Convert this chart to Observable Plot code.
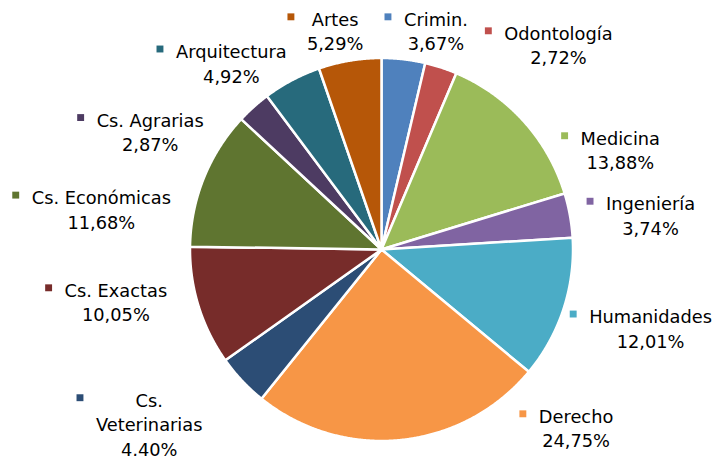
<!DOCTYPE html>
<html><head><meta charset="utf-8">
<script src="https://cdn.jsdelivr.net/npm/d3@7"></script>
<script src="https://cdn.jsdelivr.net/npm/@observablehq/plot@0.6"></script>
<style>body{margin:0;background:#fff}</style>
</head><body><div id="chart"></div>
<script>
// Data (clockwise from 12 o'clock)
const categories = ["Crimin.","Odontología","Medicina","Ingeniería","Humanidades","Derecho","Cs. Veterinarias","Cs. Exactas","Cs. Económicas","Cs. Agrarias","Arquitectura","Artes"];
const values = [3.67, 2.72, 13.88, 3.74, 12.01, 24.75, 4.40, 10.05, 11.68, 2.87, 4.92, 5.29];
const labelLines = [["Crimin."],["Odontología"],["Medicina"],["Ingeniería"],["Humanidades"],["Derecho"],["Cs.","Veterinarias"],["Cs. Exactas"],["Cs. Económicas"],["Cs. Agrarias"],["Arquitectura"],["Artes"]];
const colors = ["#4F81BD","#C0504D","#9BBB59","#8064A2","#4BACC6","#F79646","#2C4D75","#772C2A","#5F7530","#4D3B62","#276A7C","#B65708"];

// Layout: label anchor (centre x, first baseline y) in pie-radius units
const labelPos = [[0.284,1.168],[0.924,1.095],[1.247,0.547],[1.405,0.205],[1.405,-0.384],[1.016,-0.905],[-1.213,-0.821],[-1.387,-0.247],[-1.463,0.237],[-1.208,0.642],[-0.784,1.0],[-0.242,1.168]];

const FONT = 17.8, LINE = 24.5;
const cx = 381, cy = 249, R = 191.5;
const ctx = document.createElement("canvas").getContext("2d");
ctx.font = `${FONT}px "DejaVu Sans"`;

const pie = d3.pie().sort(null).value(d => d.v)(categories.map((c, i) => ({c, v: values[i]})));
const slicePts = [];
pie.forEach(p => {
  const n = Math.max(2, Math.ceil((p.endAngle - p.startAngle) / 0.005));
  slicePts.push({c: p.data.c, x: 0, y: 0});
  for (let k = 0; k <= n; k++) {
    const a = p.startAngle + (p.endAngle - p.startAngle) * k / n;
    slicePts.push({c: p.data.c, x: Math.sin(a), y: Math.cos(a)});
  }
});

const fmt = v => v.toFixed(2).replace(".", ",") + "%";
const textRows = [];
const keys = [];
categories.forEach((c, i) => {
  const lines = [...labelLines[i], fmt(values[i])];
  const [lx, ly] = labelPos[i];
  lines.forEach((t, k) => textRows.push({c, x: lx, y: ly, text: t, k}));
  const w = Math.max(...lines.map(t => ctx.measureText(t).width));
  keys.push({c, x: lx - (w / 2 + 16) / R, y: ly + 9 / R});
});

const textMarks = [0, 1, 2].map(k => Plot.text(textRows.filter(d => d.k === k), {
  x: "x", y: "y", text: "text", dy: k * LINE, lineAnchor: "bottom", fontSize: FONT, fill: "#000"
}));

const chart = Plot.plot({
  width: 715, height: 456, margin: 0,
  x: {domain: [-1, 1], range: [cx - R, cx + R], axis: null},
  y: {domain: [-1, 1], range: [cy + R, cy - R], axis: null},
  color: {domain: categories, range: colors},
  style: {fontFamily: "DejaVu Sans", fontSize: FONT + "px", background: "white", overflow: "visible"},
  marks: [
    Plot.line(slicePts, {x: "x", y: "y", z: "c", fill: "c", stroke: "white", strokeWidth: 2.5, strokeLinejoin: "round", curve: "linear-closed"}),
    Plot.dot(keys, {x: "x", y: "y", fill: "c", symbol: "square", r: 3.9, stroke: null}),
    ...textMarks
  ]
});
document.getElementById("chart").appendChild(chart);
</script>
</body></html>
